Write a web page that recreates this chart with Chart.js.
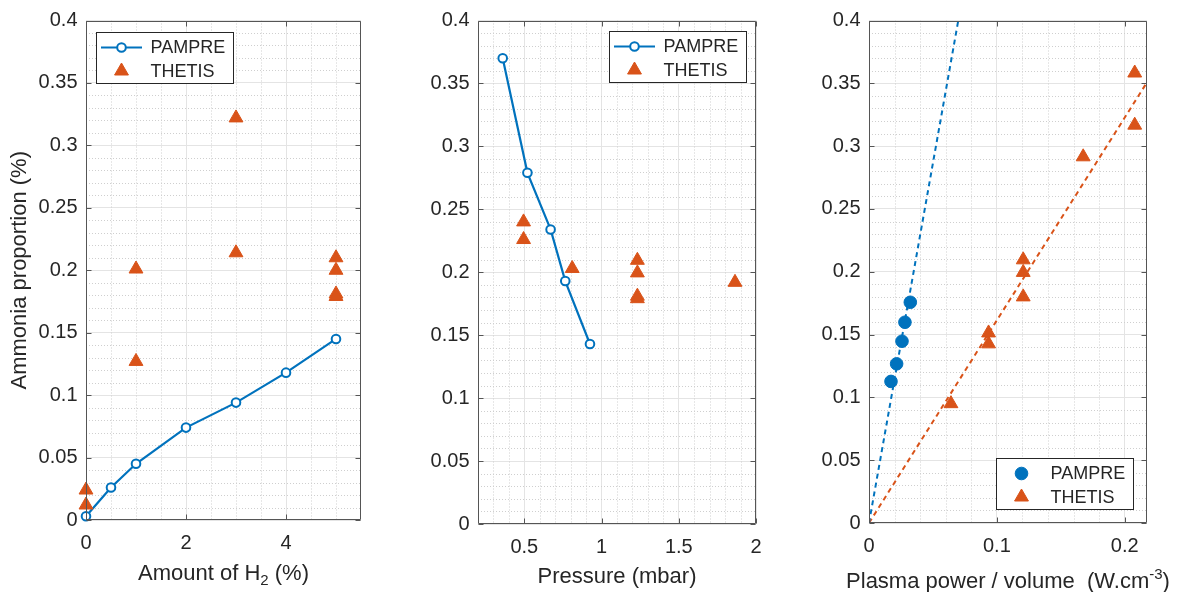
<!DOCTYPE html>
<html>
<head>
<meta charset="utf-8">
<script src="https://cdn.jsdelivr.net/npm/chart.js@4/dist/chart.umd.min.js"></script>
<style>
  html, body { margin: 0; padding: 0; background: #fff; }
  #wrap { position: relative; width: 1186px; height: 592px; }
  canvas { position: absolute; top: 0; }
</style>
</head>
<body>
<div id="wrap">
  <canvas id="c1" width="395" height="592" style="left:0px"></canvas>
  <canvas id="c2" width="395" height="592" style="left:395px"></canvas>
  <canvas id="c3" width="396" height="592" style="left:790px"></canvas>
</div>
<script>
// ---- data ----
const yTickValues = [0, 0.05, 0.1, 0.15, 0.2, 0.25, 0.3, 0.35, 0.4]

// panel 1 : amount of H2
const h2Ticks = [0, 2, 4]
const h2Pampre = [0, 0.5, 1, 2, 3, 4, 5]
const nh3PampreH2 = [0.003, 0.026, 0.045, 0.074, 0.094, 0.118, 0.145]
const h2Thetis = [0, 0, 1, 1, 3, 3, 5, 5, 5, 5]
const nh3ThetisH2 = [0.024, 0.012, 0.201, 0.127, 0.322, 0.214, 0.21, 0.2, 0.181, 0.179]

// panel 2 : pressure
const pressureTicks = [0.5, 1, 1.5, 2]
const pressurePampre = [0.36, 0.52, 0.67, 0.765, 0.925]
const nh3PamprePres = [0.37, 0.279, 0.234, 0.193, 0.143]
const pressureThetis = [0.495, 0.495, 0.81, 1.232, 1.232, 1.232, 1.232, 1.864]
const nh3ThetisPres = [0.24, 0.226, 0.203, 0.2095, 0.1995, 0.181, 0.179, 0.192]

// panel 3 : plasma power / volume
const powerTicks = [0, 0.1, 0.2]
const powerPampre = [0.0172, 0.0216, 0.0258, 0.0281, 0.0323]
const nh3PamprePow = [0.1127, 0.1267, 0.1447, 0.1598, 0.1757]
const powerThetis = [0.0641, 0.0935, 0.0935, 0.1206, 0.1206, 0.1206, 0.1675, 0.2078, 0.2078]
const nh3ThetisPow = [0.095, 0.1426, 0.1513, 0.18, 0.1995, 0.2095, 0.2915, 0.3167, 0.3582]
const fitPampreX = [0, 0.0698]
const fitPampreY = [0, 0.4]
const fitThetisX = [0, 0.2174]
const fitThetisY = [0, 0.3508]

// ---- style ----
const BLUE = '#0072BD'
const ORANGE = '#D95319'
const TEXT = '#262626'
const AXIS = '#555555'
const GRID = '#e4e4e4'
const MINOR = '#cfcfcf'
const FONT = "'Liberation Sans', Arial, Helvetica, sans-serif"

const pts = (xs, ys) => xs.map((x, i) => ({ x: x, y: ys[i] }))

function drawMarker(ctx, style, x, y, r, color, fill, lw) {
  ctx.beginPath()
  if (style === 'triangle') {
    ctx.moveTo(x, y - r)
    ctx.lineTo(x + 0.866 * r, y + 0.5 * r)
    ctx.lineTo(x - 0.866 * r, y + 0.5 * r)
    ctx.closePath()
  } else {
    ctx.arc(x, y, r, 0, Math.PI * 2)
  }
  ctx.fillStyle = fill
  ctx.fill()
  ctx.strokeStyle = color
  ctx.lineWidth = lw
  ctx.stroke()
}

// axis title with sub/superscripts, centred on the plot area
function drawRichTitle(ctx, parts, cx, cy) {
  const big = '22px ' + FONT, small = '15px ' + FONT
  let w = 0
  parts.forEach(p => { ctx.font = p.sub || p.sup ? small : big; w += ctx.measureText(p.t).width })
  let x = cx - w / 2
  ctx.fillStyle = TEXT
  ctx.textBaseline = 'alphabetic'
  ctx.textAlign = 'left'
  const base = cy + 8
  parts.forEach(p => {
    ctx.font = p.sub || p.sup ? small : big
    const dy = p.sub ? 5 : p.sup ? -9 : 0
    ctx.fillText(p.t, x, base + dy)
    x += ctx.measureText(p.t).width
  })
}

// matlab-like box, minor grid, inner ticks and legend
const matlabAxes = {
  id: 'matlabAxes',
  beforeDatasetsDraw(chart, args, opts) {
    const { ctx, chartArea: a, scales: { x, y } } = chart
    ctx.save()
    ctx.strokeStyle = MINOR
    ctx.lineWidth = 1
    ctx.setLineDash([1, 2])
    ctx.beginPath()
    const isMajor = (v, list) => list.some(t => Math.abs(t - v) < 1e-9)
    for (let k = Math.ceil(x.min / opts.minorX - 1e-6); k * opts.minorX <= x.max + 1e-9; k++) {
      const v = +(k * opts.minorX).toFixed(6)
      if (isMajor(v, opts.xMajor) || v <= x.min || v >= x.max) continue
      const px = Math.round(x.getPixelForValue(v)) + 0.5
      ctx.moveTo(px, a.top); ctx.lineTo(px, a.bottom)
    }
    for (let k = 1; k * opts.minorY < y.max - 1e-9; k++) {
      const v = +(k * opts.minorY).toFixed(6)
      if (isMajor(v, yTickValues)) continue
      const py = Math.round(y.getPixelForValue(v)) + 0.5
      ctx.moveTo(a.left, py); ctx.lineTo(a.right, py)
    }
    ctx.stroke()
    ctx.restore()
  },
  afterDatasetsDraw(chart, args, opts) {
    const { ctx, chartArea: a, scales: { x, y } } = chart
    ctx.save()
    ctx.strokeStyle = AXIS
    ctx.lineWidth = 1
    ctx.beginPath()
    const L = Math.round(a.left) + 0.5, R = Math.round(a.right) - 0.5
    const T = Math.round(a.top) + 0.5, B = Math.round(a.bottom) - 0.5
    ctx.rect(L, T, R - L, B - T)
    opts.xMajor.forEach(v => {
      const px = Math.round(x.getPixelForValue(v)) + 0.5
      ctx.moveTo(px, B); ctx.lineTo(px, B - 5)
      ctx.moveTo(px, T); ctx.lineTo(px, T + 5)
    })
    yTickValues.forEach(v => {
      const py = Math.round(y.getPixelForValue(v)) + 0.5
      ctx.moveTo(L, py); ctx.lineTo(L + 5, py)
      ctx.moveTo(R, py); ctx.lineTo(R - 5, py)
    })
    ctx.stroke()

    // legend box
    const lg = opts.legend
    const bx = Math.round(lg.right != null ? a.right - lg.right - lg.w : a.left + lg.left) + 0.5
    const by = Math.round(lg.bottom != null ? a.bottom - lg.bottom - lg.h : a.top + lg.top) + 0.5
    ctx.fillStyle = '#fff'
    ctx.fillRect(bx, by, lg.w, lg.h)
    ctx.strokeStyle = TEXT
    ctx.strokeRect(bx, by, lg.w, lg.h)
    chart.data.datasets.filter(d => d.inLegend).forEach((d, i) => {
      const cy = by + 15 + i * 23.5
      if (d.showLine) {
        ctx.strokeStyle = d.borderColor
        ctx.lineWidth = d.borderWidth
        ctx.beginPath()
        ctx.moveTo(bx + 4.5, cy); ctx.lineTo(bx + 45.5, cy)
        ctx.stroke()
      }
      drawMarker(ctx, d.pointStyle, bx + 25, cy, d.pointRadius, d.pointBorderColor, d.pointBackgroundColor, d.pointBorderWidth)
      ctx.fillStyle = TEXT
      ctx.font = '18px ' + FONT
      ctx.textBaseline = 'middle'
      ctx.textAlign = 'left'
      ctx.fillText(d.label, bx + 54, cy + 1)
    })

    drawRichTitle(ctx, opts.xTitle, (a.left + a.right) / 2, opts.xTitleY)
    ctx.restore()
  }
}

function lineSet(label, data) {
  return {
    label: label, data: data, inLegend: true, showLine: true,
    borderColor: BLUE, borderWidth: 2.2, pointStyle: 'circle', pointRadius: 4.3,
    pointBorderColor: BLUE, pointBackgroundColor: '#fff', pointBorderWidth: 2,
    clip: false, order: 1
  }
}
function markerSet(label, data, style, color, r) {
  return {
    label: label, data: data, inLegend: true, showLine: false,
    pointStyle: style, pointRadius: r, pointBorderColor: color,
    pointBackgroundColor: color, pointBorderWidth: 1, borderColor: color,
    clip: false, order: 0
  }
}
function fitSet(data, color) {
  return {
    label: 'fit', data: data, inLegend: false, showLine: true,
    borderColor: color, borderWidth: 2, borderDash: [5, 4], pointRadius: 0, order: 2
  }
}

function makeChart(id, c) {
  return new Chart(document.getElementById(id), {
    type: 'scatter',
    data: { datasets: c.datasets },
    options: {
      responsive: false,
      animation: false,
      events: [],
      layout: { padding: { left: 0, top: 19, right: c.padRight, bottom: 0 } },
      plugins: {
        legend: { display: false },
        tooltip: { enabled: false },
        matlabAxes: { minorX: c.minorX, minorY: 0.01, xMajor: c.xTicks, legend: c.legend, xTitle: c.xTitle, xTitleY: c.xTitleY }
      },
      scales: {
        x: {
          type: 'linear', min: c.xMin, max: c.xMax,
          afterBuildTicks: s => { s.ticks = c.xTicks.map(v => ({ value: v })) },
          afterFit: s => { s.height = c.xHeight },
          grid: { color: GRID, drawTicks: false },
          border: { display: false },
          ticks: { padding: 11, color: TEXT, font: { family: FONT, size: 20 }, maxRotation: 0, autoSkip: false, callback: v => String(v) }
        },
        y: {
          type: 'linear', min: 0, max: 0.4,
          afterBuildTicks: s => { s.ticks = yTickValues.map(v => ({ value: v })) },
          afterFit: s => { s.width = c.yWidth },
          grid: { color: GRID, drawTicks: false },
          border: { display: false },
          ticks: { padding: 8.5, color: TEXT, font: { family: FONT, size: 20 }, autoSkip: false, callback: v => String(v) },
          title: { display: !!c.yTitle, text: c.yTitle || '', color: TEXT, font: { family: FONT, size: 22, lineHeight: 1 }, padding: { top: 9, bottom: 0 } }
        }
      }
    },
    plugins: [matlabAxes]
  })
}

makeChart('c1', {
  datasets: [
    lineSet('PAMPRE', pts(h2Pampre, nh3PampreH2)),
    markerSet('THETIS', pts(h2Thetis, nh3ThetisH2), 'triangle', ORANGE, 8)
  ],
  xMin: 0, xMax: 5.5, xTicks: h2Ticks, minorX: 0.5,
  xTitle: [{ t: 'Amount of H' }, { t: '2', sub: true }, { t: ' (%)' }], xTitleY: 571.5,
  yTitle: 'Ammonia proportion (%)',
  yWidth: 86, xHeight: 72, padRight: 34,
  legend: { left: 10, top: 11, w: 137, h: 51 }
})

makeChart('c2', {
  datasets: [
    lineSet('PAMPRE', pts(pressurePampre, nh3PamprePres)),
    markerSet('THETIS', pts(pressureThetis, nh3ThetisPres), 'triangle', ORANGE, 8)
  ],
  xMin: 0.2, xMax: 2, xTicks: pressureTicks, minorX: 0.1,
  xTitle: [{ t: 'Pressure (mbar)' }], xTitleY: 575,
  yWidth: 83, xHeight: 68, padRight: 34,
  legend: { right: 10, top: 10, w: 137, h: 51 }
})

makeChart('c3', {
  datasets: [
    markerSet('PAMPRE', pts(powerPampre, nh3PamprePow), 'circle', BLUE, 6.3),
    markerSet('THETIS', pts(powerThetis, nh3ThetisPow), 'triangle', ORANGE, 8),
    fitSet(pts(fitPampreX, fitPampreY), BLUE),
    fitSet(pts(fitThetisX, fitThetisY), ORANGE)
  ],
  xMin: 0, xMax: 0.2174, xTicks: powerTicks, minorX: 0.02,
  xTitle: [{ t: 'Plasma power / volume  (W.cm' }, { t: '-3', sup: true }, { t: ')' }], xTitleY: 580,
  yWidth: 79, xHeight: 69, padRight: 39,
  legend: { right: 14, bottom: 14, w: 137, h: 51 }
})
</script>
</body>
</html>
